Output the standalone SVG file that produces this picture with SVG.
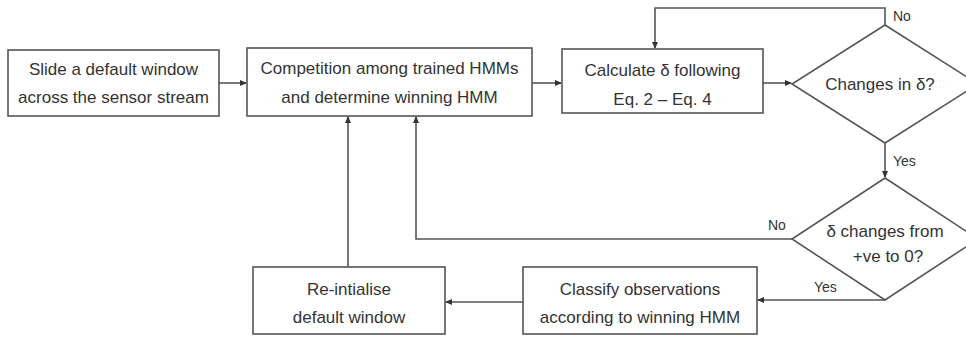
<svg xmlns="http://www.w3.org/2000/svg" width="966" height="337" viewBox="0 0 966 337">
<defs>
<style>
.box{fill:#fff;stroke:#555;stroke-width:1.6}
.t{font-family:"Liberation Sans",Arial,sans-serif;font-size:17px;fill:#333;text-anchor:middle}
.lbl{font-family:"Liberation Sans",Arial,sans-serif;font-size:14px;fill:#333}
.c{fill:none;stroke:#555;stroke-width:1.6;marker-end:url(#ah)}
</style>
<marker id="ah" markerWidth="7" markerHeight="6" refX="6" refY="3" orient="auto" markerUnits="userSpaceOnUse">
<path d="M0,0 L7,3 L0,6 Z" fill="#333"/>
</marker>
</defs>
<rect width="966" height="337" fill="#fff"/>
<g id="connectors">
<path class="c" d="M219,83 H246"/>
<path class="c" d="M532,83 H561"/>
<path class="c" d="M763,83 H791"/>
<path class="c" d="M885,25 V8 H655 V48"/>
<path class="c" d="M885,143 V177"/>
<path class="c" d="M792,239 H416 V117"/>
<path class="c" d="M885,300 H758"/>
<path class="c" d="M523,302 H446"/>
<path class="c" d="M348,267 V117"/>
</g>
<g id="slide">
<rect class="box" x="8" y="50" width="211" height="66"/>
<text class="t" x="113.5" y="75">Slide a default window</text>
<text class="t" x="113.5" y="103">across the sensor stream</text>
</g>
<g id="competition">
<rect class="box" x="247" y="48" width="285" height="68"/>
<text class="t" x="389.5" y="74">Competition among trained HMMs</text>
<text class="t" x="389.5" y="103">and determine winning HMM</text>
</g>
<g id="calculate">
<rect class="box" x="562" y="49" width="201" height="64"/>
<text class="t" x="662.5" y="76">Calculate δ following</text>
<text class="t" x="662.5" y="105">Eq. 2 – Eq. 4</text>
</g>
<g id="changes">
<polygon class="box" points="885,25 978,84 885,143 792,84"/>
<text class="t" x="880" y="90">Changes in δ?</text>
</g>
<g id="decision2">
<polygon class="box" points="885,178 978,239 885,300 792,239"/>
<text class="t" x="885" y="237">δ changes from</text>
<text class="t" x="888" y="262">+ve to 0?</text>
</g>
<g id="classify">
<rect class="box" x="523" y="267" width="234" height="67"/>
<text class="t" x="640" y="295">Classify observations</text>
<text class="t" x="640" y="323">according to winning HMM</text>
</g>
<g id="reinit">
<rect class="box" x="253" y="267" width="192" height="67"/>
<text class="t" x="349" y="295">Re-intialise</text>
<text class="t" x="349" y="323">default window</text>
</g>
<g id="labels">
<text class="lbl" x="893" y="21">No</text>
<text class="lbl" x="893" y="166">Yes</text>
<text class="lbl" x="768" y="230">No</text>
<text class="lbl" x="814" y="292">Yes</text>
</g>
</svg>
